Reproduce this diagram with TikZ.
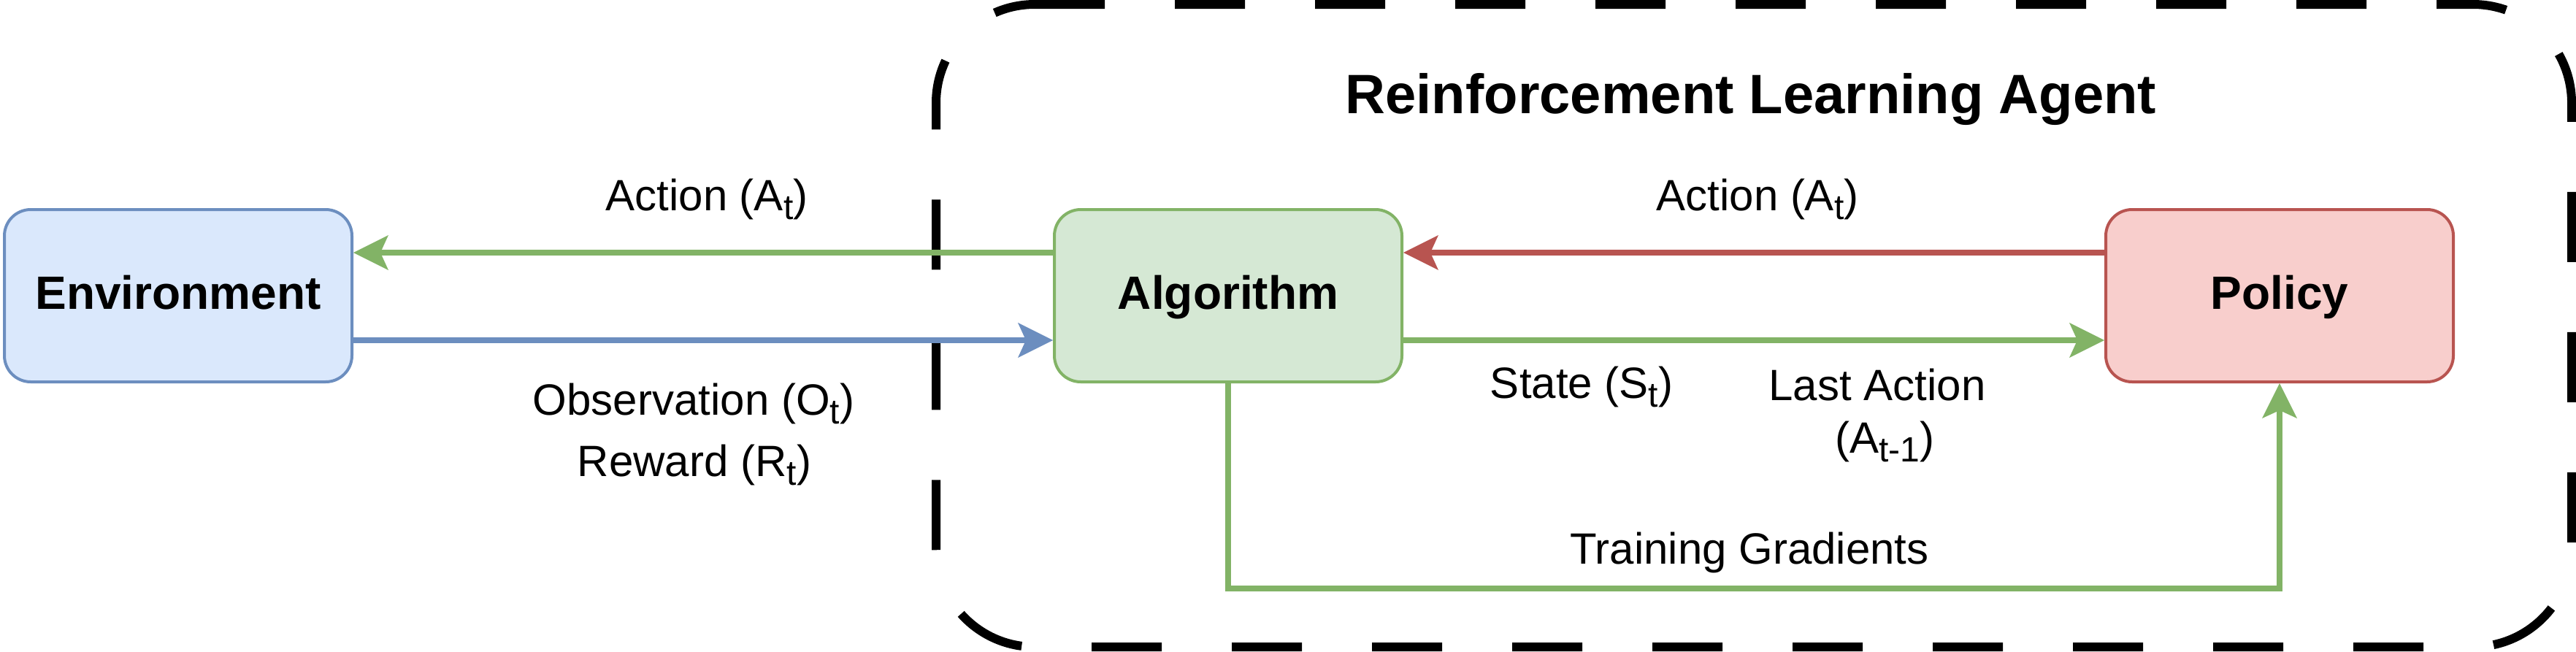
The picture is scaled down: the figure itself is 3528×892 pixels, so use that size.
\documentclass[tikz,border=0pt]{standalone}
\usepackage{fontspec}
\setmainfont{Liberation Sans}
\usetikzlibrary{arrows.meta}
\definecolor{envfill}{HTML}{DAE8FC}
\definecolor{envline}{HTML}{6C8EBF}
\definecolor{algfill}{HTML}{D5E8D4}
\definecolor{algline}{HTML}{82B366}
\definecolor{polfill}{HTML}{F8CECC}
\definecolor{polline}{HTML}{B85450}
\newcommand\mysub[1]{\raisebox{-12pt}{\fontsize{48pt}{48pt}\selectfont #1}}
\begin{document}
\begin{tikzpicture}[x=1pt,y=-1pt,
  box/.style={draw, line width=4pt, rounded corners=36pt, minimum width=476pt,
    minimum height=236pt, inner sep=0pt,
    font=\fontsize{64pt}{76pt}\selectfont\bfseries, text height=46pt, text depth=10pt},
  lbl/.style={anchor=base, inner sep=0pt, font=\fontsize{60pt}{72pt}\selectfont},
  arrowtip/.style={-{Stealth[length=48pt,width=48pt,inset=11pt,line width=0pt]}},
  conn/.style={line width=8pt, arrowtip},
  agentbox/.style={line width=12pt, dash pattern=on 96pt off 96pt}
]
\useasboundingbox (0,0) rectangle (3528,892);

% agent boundary
\draw[agentbox] (1417,6) -- (3387,6) arc[start angle=-90, end angle=0, radius=135]
  -- (3522,751) arc[start angle=0, end angle=90, radius=135]
  -- (1417,886) arc[start angle=90, end angle=180, radius=135]
  -- (1282,141) arc[start angle=180, end angle=270, radius=135] -- cycle;
\node[lbl, font=\fontsize{76pt}{90pt}\selectfont\bfseries] (title) at (2398,155) {Reinforcement Learning Agent};

% boxes
\node[box, fill=envfill, draw=envline] (env) at (244,405) {Environment};
\node[box, fill=algfill, draw=algline] (alg) at (1682,405) {Algorithm};
\node[box, fill=polfill, draw=polline] (pol) at (3122,405) {Policy};

% connectors
\draw[conn, draw=algline] ([yshift=59pt]alg.west) -- ([yshift=59pt]env.east);
\draw[conn, draw=envline] ([yshift=-61pt]env.east) -- ([yshift=-61pt]alg.west);
\draw[conn, draw=polline] ([yshift=59pt]pol.west) -- ([yshift=59pt]alg.east);
\draw[conn, draw=algline] ([yshift=-61pt]alg.east) -- ([yshift=-61pt]pol.west);
\coordinate (tg) at (2400,806);
\draw[conn, draw=algline] (alg.south) |- (tg) -| (pol.south);

% labels
\node[lbl] (actL) at (968,288) {Action (A\mysub{t})};
\node[lbl] (obs) at (950,568) {Observation (O\mysub{t})};
\node[lbl] (rew) at (951,652) {Reward (R\mysub{t})};
\node[lbl] (actR) at (2407,288) {Action (A\mysub{t})};
\node[lbl] (state) at (2166,545) {State (S\mysub{t})};
\node[lbl] (last1) at (2571,548) {Last Action};
\node[lbl] (last2) at (2581,620) {(A\mysub{t-1})};
\node[lbl] (train) at (2396,772) {Training Gradients};
\end{tikzpicture}
\end{document}
